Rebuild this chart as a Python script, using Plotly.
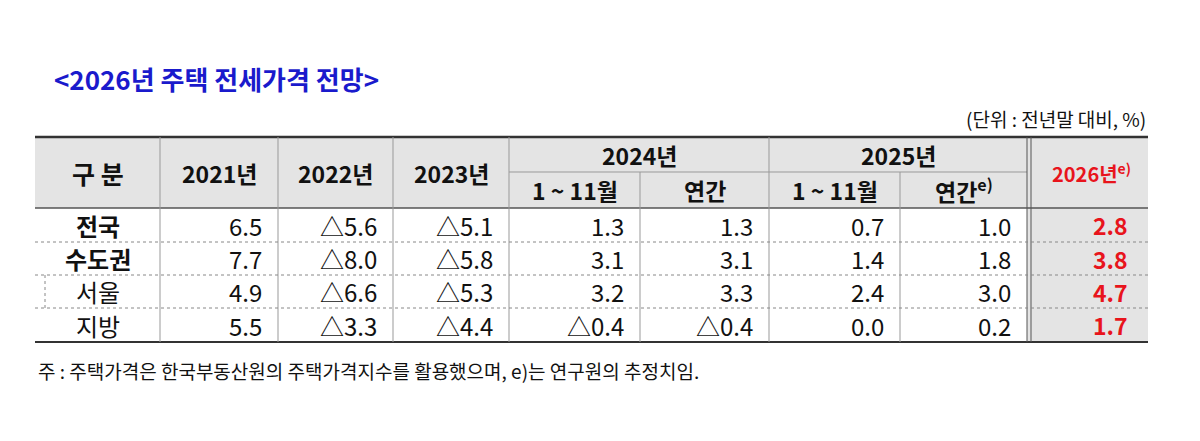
import plotly.graph_objects as go

title = "<2026년 주택 전세가격 전망>"
unit = "(단위 : 전년말 대비, %)"
note = "주 : 주택가격은 한국부동산원의 주택가격지수를 활용했으며, e)는 연구원의 추정치임."
regions = ["전국", "수도권", "서울", "지방"]
region_bold = [True, True, False, False]
y2021 = ["6.5", "7.7", "4.9", "5.5"]
y2022 = ["△5.6", "△8.0", "△6.6", "△3.3"]
y2023 = ["△5.1", "△5.8", "△5.3", "△4.4"]
y2024_ytd = ["1.3", "3.1", "3.2", "△0.4"]
y2024_ann = ["1.3", "3.1", "3.3", "△0.4"]
y2025_ytd = ["0.7", "1.4", "2.4", "0.0"]
y2025_ann = ["1.0", "1.8", "3.0", "0.2"]
y2026 = ["2.8", "3.8", "4.7", "1.7"]

F = "Noto Sans CJK KR"
cols = [35, 160, 278, 393, 509, 640, 769, 900, 1027, 1148]
top, mid, hb = 137, 172, 208
rows = [208, 242, 275, 308, 342]

shapes, ann = [], []
def rect(x0, y0, x1, y1, fill):
    shapes.append(dict(type="rect", x0=x0, x1=x1, y0=y0, y1=y1, fillcolor=fill, line=dict(width=0), layer="below"))
def line(x0, y0, x1, y1, w=1, c="#999", dash="solid"):
    shapes.append(dict(type="line", x0=x0, x1=x1, y0=y0, y1=y1, line=dict(width=w, color=c, dash=dash)))
def text(x, y, t, size=20, color="#111", anchor="center"):
    ann.append(dict(x=x, y=y, text=t, showarrow=False, xanchor=anchor, yanchor="middle",
                    font=dict(family=F, size=size, color=color)))

gray = "#e4e4e4"
rect(cols[0], top, cols[-1], hb, gray)
rect(cols[8], hb, cols[-1], rows[-1], gray)

line(cols[0], top, cols[-1], top, 2.5, "#333")
line(cols[0], hb, cols[-1], hb, 1.5, "#555")
line(cols[0], rows[-1], cols[-1], rows[-1], 2, "#333")
line(cols[4], mid, cols[8], mid, 1, "#999")
for x in [cols[1], cols[2], cols[3], cols[4], cols[6]]:
    line(x, top, x, rows[-1])
for x in [cols[5], cols[7]]:
    line(x, mid, x, rows[-1])
line(cols[8], top, cols[8], rows[-1], 1, "#555")
line(cols[8] + 4, top, cols[8] + 4, rows[-1], 1, "#555")
for y in rows[1:-1]:
    line(cols[0], y, cols[-1], y, 1, "#888", "dot")
line(45, rows[2], 45, rows[3], 1, "#888", "dot")

HS = 23
text((cols[0] + cols[1]) / 2, (top + hb) / 2, "<b>구 분</b>", 25)
for i, lab in enumerate(["2021년", "2022년", "2023년"]):
    text((cols[i + 1] + cols[i + 2]) / 2, (top + hb) / 2, f"<b>{lab}</b>", HS)
text((cols[4] + cols[6]) / 2, (top + mid) / 2, "<b>2024년</b>", HS)
text((cols[6] + cols[8]) / 2, (top + mid) / 2, "<b>2025년</b>", HS)
text((cols[4] + cols[5]) / 2, (mid + hb) / 2, "<b>1 ~ 11월</b>", HS)
text((cols[5] + cols[6]) / 2, (mid + hb) / 2, "<b>연간</b>", HS)
text((cols[6] + cols[7]) / 2, (mid + hb) / 2, "<b>1 ~ 11월</b>", HS)
text((cols[7] + cols[8]) / 2, (mid + hb) / 2, "<b>연간<sup>e)</sup></b>", HS)
text((cols[8] + cols[9]) / 2 + 4, (top + hb) / 2, "<b>2026년<sup>e)</sup></b>", 20, "#e8141c")

series = [y2021, y2022, y2023, y2024_ytd, y2024_ann, y2025_ytd, y2025_ann]
for r, reg in enumerate(regions):
    yc = (rows[r] + rows[r + 1]) / 2
    text((cols[0] + cols[1]) / 2, yc, f"<b>{reg}</b>" if region_bold[r] else reg, 24)
    for c, s in enumerate(series):
        text(cols[c + 2] - 14, yc, s[r], 24, anchor="right")
    text(cols[9] - 18, yc, f"<b>{y2026[r]}</b>", 23, "#e8141c", "right")

ann.append(dict(x=52, y=78, text=f"<b>{title.replace('<', '&lt;').replace('>', '&gt;')}</b>", showarrow=False,
                xanchor="left", yanchor="middle", font=dict(family=F, size=26, color="#1a1acc")))
text(1148, 118, unit, 19, anchor="right")
text(36, 370, note, 19, anchor="left")

fig = go.Figure()
fig.update_layout(width=1200, height=441, margin=dict(l=0, r=0, t=0, b=0),
                  plot_bgcolor="white", paper_bgcolor="white", shapes=shapes, annotations=ann,
                  xaxis=dict(range=[8, 1208], visible=False, fixedrange=True),
                  yaxis=dict(range=[449, 8], visible=False, fixedrange=True), showlegend=False)
fig.write_html("out.html")
